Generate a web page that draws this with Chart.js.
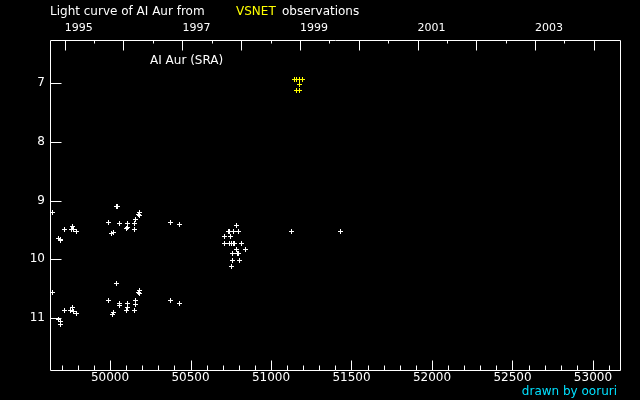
<!DOCTYPE html>
<html><head><meta charset="utf-8">
<script src="https://cdn.jsdelivr.net/npm/chart.js@4"></script>
<style>html,body{margin:0;padding:0;background:#000;overflow:hidden}canvas{display:block}</style>
</head><body>
<canvas id="c" width="640" height="400"></canvas>
<script>
// Observations (JD - 2400000, visual magnitude)
const otherJD = [
  49642, 49717, 49766, 49762, 49775, 49791, 49679, 49690, 49694,
  50040, 50046, 49990, 50058, 50020, 50012, 50107, 50103, 50107, 50151, 50159, 50155,
  50174, 50182, 50182, 50374, 50430,
  50783, 50733, 50740, 50765, 50796, 50709, 50746, 50709, 50740, 50752, 50767, 50776,
  50814, 50783, 50839, 50758, 50789, 50795, 50758, 50802, 50752, 51130, 51434,
  49642, 49717, 49764, 49757, 49774, 49791, 49682, 49691, 49691,
  50043, 49990, 50058, 50058, 50020, 50014, 50107, 50107, 50101, 50151, 50159, 50157,
  50174, 50182, 50182, 50374, 50430
];
const otherMag = [
  9.21, 9.50, 9.45, 9.50, 9.50, 9.53, 9.64, 9.67, 9.68,
  9.10, 9.10, 9.37, 9.39, 9.54, 9.56, 9.39, 9.48, 9.46, 9.49, 9.33, 9.39,
  9.23, 9.20, 9.25, 9.37, 9.40,
  9.42, 9.52, 9.52, 9.52, 9.52, 9.62, 9.62, 9.73, 9.73, 9.73, 9.73, 9.73,
  9.73, 9.83, 9.83, 9.91, 9.91, 9.91, 10.02, 10.02, 10.12, 9.52, 9.52,
  10.56, 10.88, 10.83, 10.87, 10.90, 10.92, 11.02, 11.07, 11.11,
  10.42, 10.71, 10.76, 10.79, 10.91, 10.94, 10.75, 10.83, 10.87, 10.87, 10.71, 10.78,
  10.56, 10.54, 10.58, 10.71, 10.76
];
const vsnetJD  = [51145, 51161, 51178, 51195, 51174, 51161, 51174];
const vsnetMag = [6.93, 6.93, 6.93, 6.93, 7.02, 7.12, 7.12];

// Axis ticks
const jdLabelTicks = [50000, 50500, 51000, 51500, 52000, 52500, 53000];
const magTicks = [7, 8, 9, 10, 11];
const yearLabels = ['1995', '1997', '1999', '2001', '2003'];
const yearLabelJD = [49718.5, 50449.5, 51179.5, 51910.5, 52640.5];
const yearStartJD = [49718.5, 50083.5, 50449.5, 50814.5, 51179.5, 51544.5, 51910.5, 52275.5, 52640.5, 53005.5];

const JD_MIN = 49627, JD_MAX = 53168;
const MAG_MIN = 6.26, MAG_MAX = 11.89;

Chart.defaults.font.family = 'DejaVu Sans';
Chart.defaults.font.size = 11;
Chart.defaults.color = '#ffffff';

const toPts = (xs, ys) => xs.map((x, i) => ({x: x, y: ys[i]}));

function crossImage(color) {
  const c = document.createElement('canvas');
  c.width = 5; c.height = 5;
  const g = c.getContext('2d');
  g.fillStyle = color;
  g.fillRect(0, 2, 5, 1);
  g.fillRect(2, 0, 1, 5);
  return c;
}
const whiteCross = crossImage('#ffffff');
const yellowCross = crossImage('#ffff00');

const frame = {
  id: 'frame',
  beforeDraw(chart) {
    const ctx = chart.ctx;
    ctx.save();
    ctx.fillStyle = '#000';
    ctx.fillRect(0, 0, chart.width, chart.height);
    ctx.restore();
  },
  beforeDatasetsDraw(chart) {
    chart.ctx.imageSmoothingEnabled = false;
  },
  afterDraw(chart) {
    const ctx = chart.ctx;
    const a = chart.chartArea;
    const xs = chart.scales.x, ys = chart.scales.y;
    ctx.save();
    ctx.strokeStyle = '#fff';
    ctx.lineWidth = 1;
    ctx.beginPath();
    ctx.rect(Math.round(a.left) + 0.5, Math.round(a.top) + 0.5,
             Math.round(a.right - a.left), Math.round(a.bottom - a.top));
    // bottom JD ticks
    const b = Math.round(a.bottom) + 0.5;
    for (let v = 49700; v <= JD_MAX; v += 100) {
      const px = Math.round(xs.getPixelForValue(v)) + 0.5;
      const len = (v % 500 === 0) ? 10 : 5;
      ctx.moveTo(px, b); ctx.lineTo(px, b - len);
    }
    // top year ticks
    const t = Math.round(a.top) + 0.5;
    yearStartJD.forEach(v => {
      const px = Math.round(xs.getPixelForValue(v)) + 0.5;
      ctx.moveTo(px, t); ctx.lineTo(px, t + 10);
      const h = v + 182.5;
      if (h < JD_MAX) {
        const ph = Math.round(xs.getPixelForValue(h)) + 0.5;
        ctx.moveTo(ph, t); ctx.lineTo(ph, t + 3);
      }
    });
    // left mag ticks
    const l = Math.round(a.left) + 0.5;
    magTicks.forEach(m => {
      const py = Math.round(ys.getPixelForValue(m)) + 0.5;
      ctx.moveTo(l, py); ctx.lineTo(l + 11, py);
    });
    ctx.stroke();

    ctx.font = '12px "DejaVu Sans"';
    ctx.textBaseline = 'middle';
    ctx.textAlign = 'left';
    ctx.fillStyle = '#fff';
    ctx.fillText('Light curve of AI Aur from', 50, 12);
    ctx.fillStyle = '#ffff00';
    ctx.fillText('VSNET', 236, 12);
    ctx.fillStyle = '#fff';
    ctx.fillText('observations', 282, 12);
    ctx.fillText('AI Aur (SRA)', 150, 61);
    ctx.fillStyle = '#00e0ff';
    ctx.textAlign = 'right';
    ctx.fillText('drawn by ooruri', 617, 392);
    ctx.restore();
  }
};

new Chart(document.getElementById('c'), {
  type: 'scatter',
  data: {
    datasets: [
      {
        label: 'other',
        data: toPts(otherJD, otherMag),
        pointStyle: whiteCross,
        pointRadius: 2.5,
        borderColor: '#ffffff',
        backgroundColor: '#ffffff',
        borderWidth: 1
      },
      {
        label: 'VSNET',
        data: toPts(vsnetJD, vsnetMag),
        pointStyle: yellowCross,
        pointRadius: 2.5,
        borderColor: '#ffff00',
        backgroundColor: '#ffff00',
        borderWidth: 1
      }
    ]
  },
  options: {
    responsive: false,
    animation: false,
    events: [],
    layout: {padding: {left: 0, right: 20, top: 0, bottom: 0}},
    plugins: {legend: {display: false}, title: {display: false}, tooltip: {enabled: false}},
    scales: {
      x: {
        type: 'linear', position: 'bottom', min: JD_MIN, max: JD_MAX,
        grid: {display: false, drawTicks: false, tickLength: 0}, border: {display: false},
        afterBuildTicks: s => { s.ticks = jdLabelTicks.map(v => ({value: v})); },
        afterFit: s => { s.height = 30; },
        ticks: {font: {size: 12}, padding: 1, maxRotation: 0, autoSkip: false, callback: v => String(v)}
      },
      x2: {
        type: 'linear', position: 'top', min: JD_MIN, max: JD_MAX,
        grid: {display: false, drawTicks: false, tickLength: 0}, border: {display: false},
        afterBuildTicks: s => { s.ticks = yearLabelJD.map(v => ({value: v})); },
        afterFit: s => { s.height = 40; },
        ticks: {align: 'start', padding: 5, maxRotation: 0, autoSkip: false,
                callback: (v, i) => yearLabels[i]}
      },
      y: {
        type: 'linear', position: 'left', reverse: true, min: MAG_MIN, max: MAG_MAX,
        grid: {display: false, drawTicks: false, tickLength: 0}, border: {display: false},
        afterBuildTicks: s => { s.ticks = magTicks.map(v => ({value: v})); },
        afterFit: s => { s.width = 50; },
        ticks: {font: {size: 12}, padding: 5, autoSkip: false, callback: v => String(v)}
      }
    }
  },
  plugins: [frame]
});
</script>
</body></html>
